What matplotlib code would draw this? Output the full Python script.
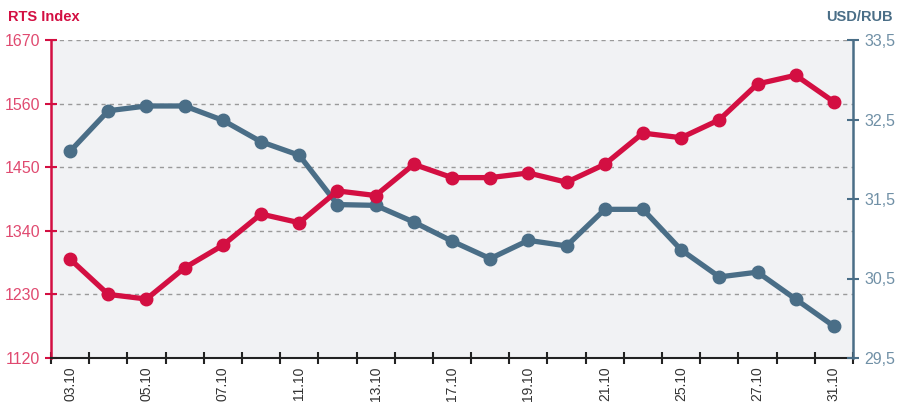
import matplotlib
matplotlib.use("Agg")
import matplotlib.pyplot as plt
import numpy as np

plt.rcParams['font.family'] = ['Liberation Sans', 'DejaVu Sans']

dates = ["03.10", "04.10", "05.10", "06.10", "07.10", "10.10", "11.10", "12.10",
         "13.10", "14.10", "17.10", "18.10", "19.10", "20.10", "21.10", "24.10",
         "25.10", "26.10", "27.10", "28.10", "31.10"]
rts = [1291, 1230, 1222, 1276, 1315, 1369, 1354, 1409, 1401, 1455, 1432,
       1432, 1440, 1424, 1455, 1509, 1501, 1532, 1594, 1609, 1563]
usdrub = [32.10, 32.61, 32.67, 32.67, 32.49, 32.22, 32.05, 31.43, 31.42, 31.21,
          30.97, 30.75, 30.98, 30.91, 31.37, 31.37, 30.86, 30.52, 30.58, 30.24, 29.90]
left_ticks = [1120, 1230, 1340, 1450, 1560, 1670]
right_ticks = [29.5, 30.5, 31.5, 32.5, 33.5]
right_labels = ["29,5", "30,5", "31,5", "32,5", "33,5"]

RED = "#d30f42"
RED_T = "#e04a70"
BLUE = "#4a6e87"
BLUE_T = "#7090a6"

fig = plt.figure(figsize=(9.03, 4.03), dpi=100)
rect = [51/903, 1-358/403, 802/903, 318/403]
ax = fig.add_axes(rect)
ax.set_facecolor("#f1f2f4")
ax2 = ax.twinx()
ax3 = fig.add_axes(rect, sharex=ax)
ax3.patch.set_visible(False)
ax3.axis("off")

x = np.arange(len(dates))
ax.set_xlim(-0.5, len(dates)-0.5)
ax.set_ylim(1120, 1670)
ax3.set_ylim(1120, 1670)
ax2.set_ylim(29.5, 33.5)

for v in left_ticks[1:]:
    ax.axhline(v, color="#9a9a9a", lw=1, ls=(0, (3, 3)), zorder=1)

ax2.plot(x, usdrub, color=BLUE, lw=3.8, marker="o", ms=9, zorder=3, clip_on=False)
ax3.plot(x, rts, color=RED, lw=3.8, marker="o", ms=9, zorder=4, clip_on=False)

ax.set_yticks(left_ticks)
ax.set_yticklabels([str(v) for v in left_ticks])
ax.tick_params(axis="y", direction="inout", length=8, width=1.5, color=RED,
               labelcolor=RED_T, labelsize=11.5, pad=4)
ax2.set_yticks(right_ticks)
ax2.set_yticklabels(right_labels)
ax2.tick_params(axis="y", direction="inout", length=8, width=1.5, color=BLUE,
                labelcolor=BLUE_T, labelsize=11.5, pad=4)

ax.set_xticks(x[::2])
ax.set_xticklabels(dates[::2], rotation=90)
ax.set_xticks(np.arange(-0.5, len(dates), 1.0), minor=True)
ax.tick_params(axis="x", which="major", length=0, labelsize=10, labelcolor="#333333", pad=6)
ax.tick_params(axis="x", which="minor", direction="inout", length=8, width=1.5, color="#222222")

for a in (ax, ax2):
    a.spines["top"].set_visible(False)
ax.spines["left"].set_color(RED)
ax.spines["left"].set_linewidth(1.8)
ax.spines["right"].set_visible(False)
ax2.spines["left"].set_visible(False)
ax2.spines["bottom"].set_visible(False)
ax2.spines["right"].set_color(BLUE)
ax2.spines["right"].set_linewidth(1.8)
ax.spines["bottom"].set_color("#222222")
ax.spines["bottom"].set_linewidth(1.5)

fig.text(8/903, 1-17/403, "RTS Index", color=RED, fontsize=10.5, fontweight="bold",
         ha="left", va="center")
fig.text(893/903, 1-17/403, "USD/RUB", color=BLUE, fontsize=10.5, fontweight="bold",
         ha="right", va="center")

fig.savefig("out.png", dpi=100)
